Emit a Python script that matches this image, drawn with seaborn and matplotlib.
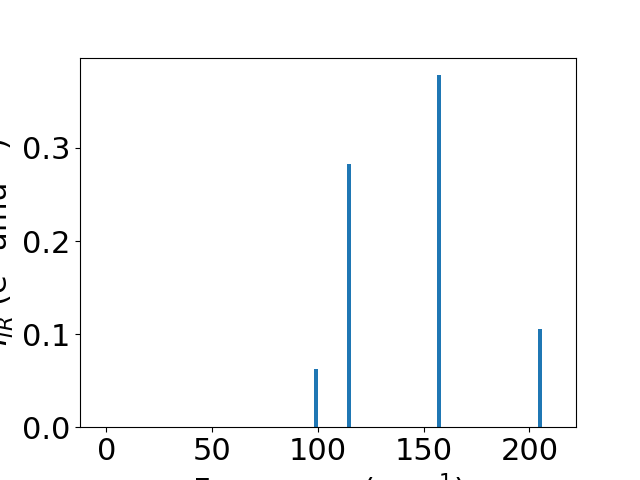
import matplotlib
matplotlib.use("Agg")
import matplotlib.pyplot as plt
import pandas as pd
import seaborn as sns

# IR active modes
frequencies = [98.9, 114.8, 157.2, 205.1]
intensities = [0.0624, 0.283, 0.3785, 0.1054]

df = pd.DataFrame({"freq": frequencies, "intensity": intensities})

plt.rcParams["font.size"] = 22
fig, ax = plt.subplots(figsize=(6.4, 4.8), dpi=100)

# bar width ~2 cm^-1, relative to smallest spacing between modes
min_gap = min(b - a for a, b in zip(frequencies, frequencies[1:]))
sns.barplot(data=df, x="freq", y="intensity", native_scale=True,
            width=2.0 / min_gap, color="#1f77b4", saturation=1,
            ax=ax)

ax.set_xlim(-12.5, 222)
ax.set_ylim(0, 0.397)
ax.set_xticks([0, 50, 100, 150, 200])
ax.set_yticks([0.0, 0.1, 0.2, 0.3])
ax.set_xlabel("Frequency (cm$^{-1}$)")
ax.set_ylabel("$I_{IR}$ (e$^2$ amu$^{-1}$)")

fig.savefig("out.png")
